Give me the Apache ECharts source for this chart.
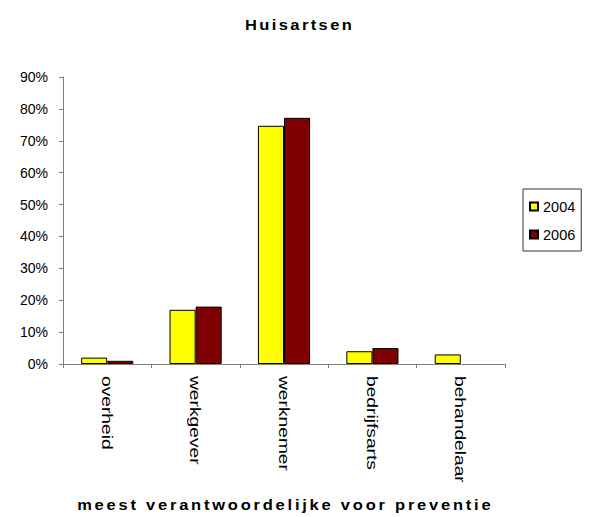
<!DOCTYPE html>
<html>
<head>
<meta charset="utf-8">
<script src="https://cdn.jsdelivr.net/npm/echarts@6/dist/echarts.min.js"></script>
<style>
  html, body { margin: 0; padding: 0; background: #fff; }
  #chart { width: 597px; height: 517px; }
</style>
</head>
<body>
<div id="chart"></div>
<script>
// Who is considered most responsible for prevention (share of respondents)
const categories = ['overheid', 'werkgever', 'werknemer', 'bedrijfsarts', 'behandelaar'];
const values2004 = [2, 17, 74.7, 4, 3];
const values2006 = [1, 18, 77.2, 5, 0];
const yTicks = [0, 10, 20, 30, 40, 50, 60, 70, 80, 90];

const TITLE = 'Huisartsen';
const X_NAME = 'meest verantwoordelijke voor preventie';

const chart = echarts.init(document.getElementById('chart'), null, { renderer: 'svg' });

const axisGray = '#808080';
const font = 'Liberation Sans, Arial, sans-serif';

// zero-height bars are left out entirely (no border stub on the axis)
const toBarData = arr => arr.map(v => (v === 0 ? { value: 0, itemStyle: { borderWidth: 0, opacity: 0 } } : v));

chart.setOption({
  animation: false,
  backgroundColor: '#ffffff',
  title: {
    text: TITLE,
    left: 'center',
    top: 12,
    textStyle: { fontFamily: font, fontWeight: 'bold', fontSize: 15, color: '#000' }
  },
  legend: {
    orient: 'vertical',
    left: 523,
    top: 189,
    width: 65,
    padding: [10, 6, 9, 6],
    itemGap: 13,
    itemWidth: 8,
    itemHeight: 8,
    icon: 'rect',
    borderColor: '#333',
    borderWidth: 1,
    textStyle: { fontFamily: font, fontSize: 14.5, color: '#000' },
    data: ['2004', '2006']
  },
  grid: { left: 63, right: 92, top: 77, bottom: 152 },
  xAxis: {
    type: 'category',
    data: categories,
    name: X_NAME,
    nameLocation: 'middle',
    nameGap: 133,
    nameTextStyle: { fontFamily: font, fontWeight: 'bold', fontSize: 15, color: '#000' },
    axisLine: { lineStyle: { color: axisGray, width: 1 } },
    axisTick: { show: true, length: 4, alignWithLabel: false, lineStyle: { color: axisGray } },
    axisLabel: { rotate: -90, margin: 12, fontFamily: font, fontSize: 15.5, color: '#000' }
  },
  yAxis: {
    type: 'value',
    min: 0,
    max: 90,
    interval: 10,
    axisLine: { show: true, lineStyle: { color: axisGray, width: 1 } },
    axisTick: { show: true, length: 4, lineStyle: { color: axisGray } },
    splitLine: { show: false },
    axisLabel: {
      margin: 15,
      fontFamily: font,
      fontSize: 14,
      color: '#000',
      formatter: v => (yTicks.includes(v) ? v + '%' : '')
    }
  },
  series: [
    {
      name: '2004',
      type: 'bar',
      data: toBarData(values2004),
      barCategoryGap: '41%',
      barGap: '0%',
      itemStyle: { color: '#ffff00', borderColor: '#000', borderWidth: 1 }
    },
    {
      name: '2006',
      type: 'bar',
      data: toBarData(values2006),
      barCategoryGap: '41%',
      barGap: '0%',
      itemStyle: { color: '#800000', borderColor: '#000', borderWidth: 1 }
    }
  ]
});

// Widen the bold headings (slightly broader glyphs plus open tracking)
// so they span their target widths around the same centre.
function spreadText(str, targetWidth, stretch) {
  document.querySelectorAll('#chart svg text').forEach(node => {
    if (node.textContent !== str || node.dataset.spread) return;
    node.dataset.spread = '1';
    const natural = node.getComputedTextLength() * stretch;
    const gap = (targetWidth - natural) / Math.max(1, str.length - 1) / stretch;
    const x = parseFloat(node.getAttribute('x') || '0');
    if (gap > 0) {
      node.setAttribute('letter-spacing', gap.toFixed(2));
      node.setAttribute('x', (x + gap / 2).toFixed(2));
    }
    const prev = node.getAttribute('transform') || '';
    const bb = node.getBBox();
    const cx = bb.x + bb.width / 2;
    node.setAttribute('transform',
      prev + ` translate(${cx},0) scale(${stretch},1) translate(${-cx},0)`);
  });
}

// Lengthen the vertical category labels downward from their top edge.
function lengthenCategoryLabels(stretch) {
  const top = chart.convertToPixel({ yAxisIndex: 0 }, 0) + 12;
  document.querySelectorAll('#chart svg text').forEach(node => {
    if (!categories.includes(node.textContent) || node.dataset.spread) return;
    node.dataset.spread = '1';
    const prev = node.getAttribute('transform') || '';
    node.setAttribute('transform',
      `translate(0,${top}) scale(1,${stretch}) translate(0,${-top}) ` + prev);
  });
}

function applyTextShaping() {
  spreadText(TITLE, 107, 1.1);
  spreadText(X_NAME, 414, 1.1);
  lengthenCategoryLabels(1.24);
}
chart.on('finished', applyTextShaping);
applyTextShaping();
</script>
</body>
</html>
